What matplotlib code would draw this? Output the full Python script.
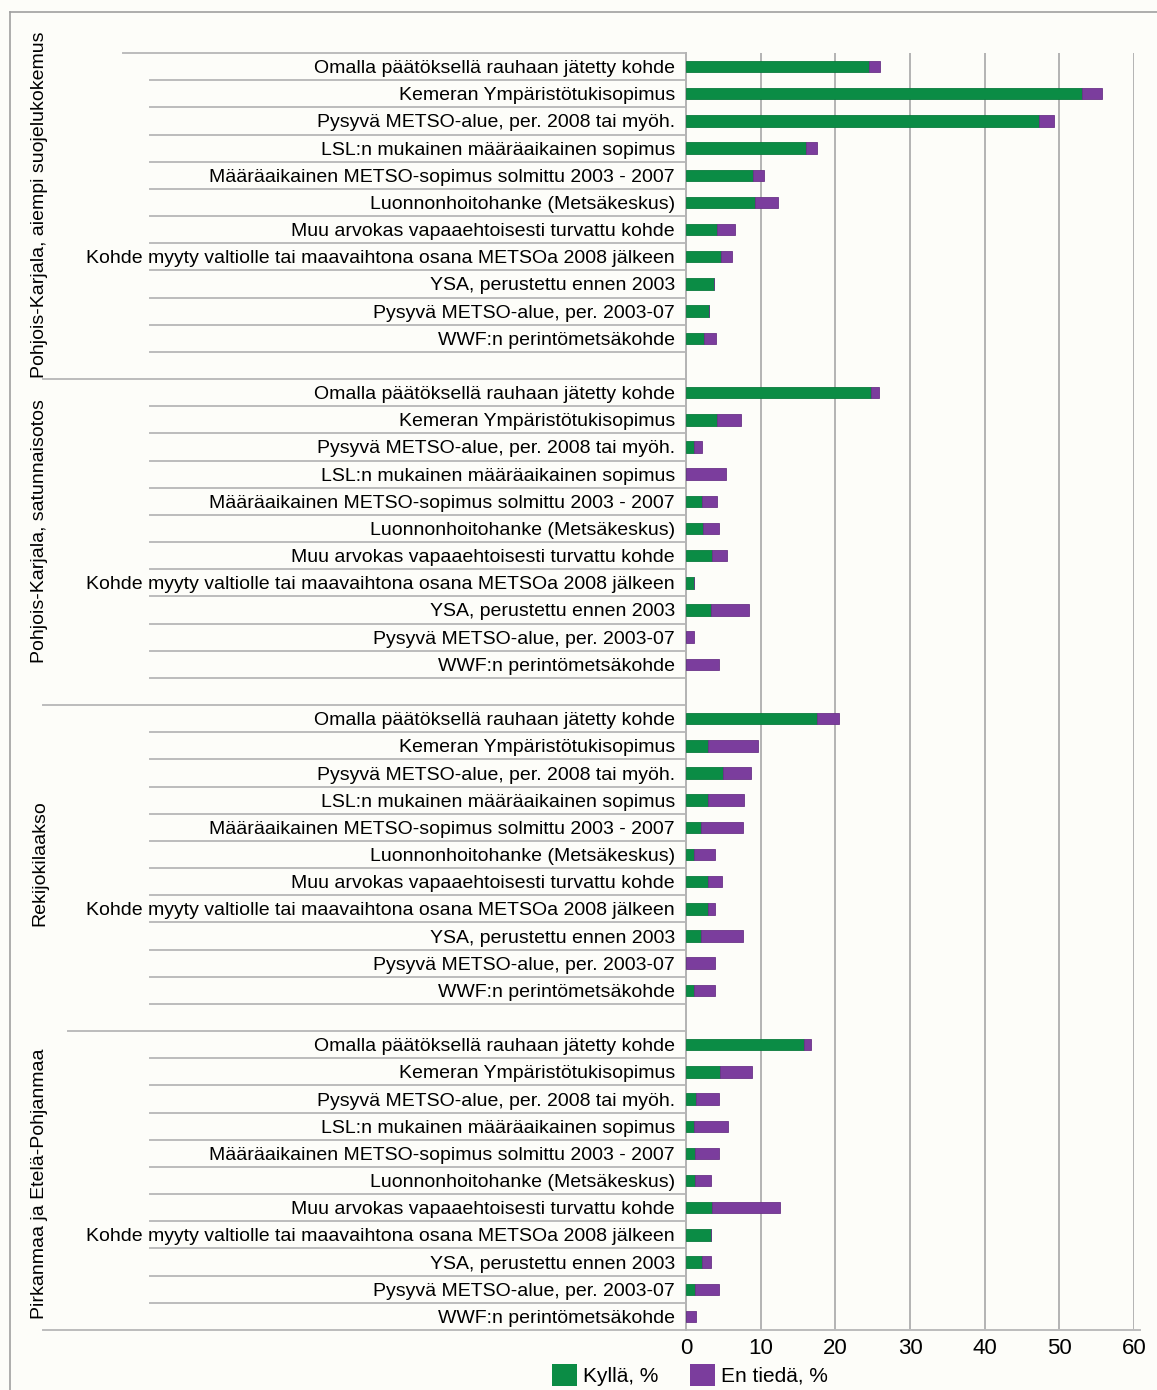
import numpy as np
import matplotlib.pyplot as plt
from matplotlib.lines import Line2D
from matplotlib.patches import Patch
import matplotlib.transforms as mtransforms

plt.rcParams['font.family'] = ['Liberation Sans', 'DejaVu Sans']

categories = ['Omalla päätöksellä rauhaan jätetty kohde',
              'Kemeran Ympäristötukisopimus',
              'Pysyvä METSO-alue, per. 2008 tai myöh.',
              'LSL:n mukainen määräaikainen sopimus',
              'Määräaikainen METSO-sopimus solmittu 2003 - 2007',
              'Luonnonhoitohanke (Metsäkeskus)',
              'Muu arvokas vapaaehtoisesti turvattu kohde',
              'Kohde myyty valtiolle tai maavaihtona osana METSOa 2008 jälkeen',
              'YSA, perustettu ennen 2003',
              'Pysyvä METSO-alue, per. 2003-07',
              "WWF:n perintömetsäkohde"]

groups = ['Pohjois-Karjala, aiempi suojelukokemus',
          'Pohjois-Karjala, satunnaisotos',
          'Rekijokilaakso',
          'Pirkanmaa ja Etelä-Pohjanmaa']

# Kyllä, %
kylla = [
    [24.5, 53.0, 47.3, 16.1, 9.0, 9.3, 4.1, 4.7, 3.8, 3.1, 2.4],
    [24.8, 4.2, 1.1, 0.0, 2.1, 2.3, 3.5, 1.1, 3.4, 0.0, 0.0],
    [17.6, 3.0, 5.0, 3.0, 2.0, 1.1, 3.0, 2.9, 2.0, 0.0, 1.1],
    [15.8, 4.5, 1.3, 1.1, 1.2, 1.2, 3.5, 3.3, 2.2, 1.2, 0.0],
]
# En tiedä, %
en_tieda = [
    [1.5, 2.7, 2.0, 1.4, 1.4, 3.0, 2.4, 1.4, 0.0, 0.0, 1.6],
    [1.1, 3.2, 1.1, 5.3, 2.1, 2.1, 2.0, 0.0, 5.1, 1.1, 4.4],
    [2.9, 6.6, 3.7, 4.8, 5.7, 2.8, 1.8, 1.0, 5.7, 3.9, 2.8],
    [1.0, 4.3, 3.1, 4.5, 3.2, 2.1, 9.1, 0.0, 1.1, 3.2, 1.3],
]
xticks = [0, 10, 20, 30, 40, 50, 60]

green = '#0b8c45'
purple = '#7b3d9d'
bg = '#fdfdf9'
fs = 14

W, H = 1157, 1390
fig = plt.figure(figsize=(W / 100, H / 100), dpi=100, facecolor=bg)
ax = fig.add_axes([686 / W, 1 - 1330 / H, (1134 - 686) / W, (1330 - 53) / H])
ax.set_facecolor(bg)

ypos, labels, kv, ev = [], [], [], []
for g in range(len(groups)):
    for r, c in enumerate(categories):
        ypos.append(g * 12 + r)
        labels.append(c)
        kv.append(kylla[g][r])
        ev.append(en_tieda[g][r])
ypos = np.array(ypos)
kv = np.array(kv)
ev = np.array(ev)

ax.barh(ypos, kv, height=0.42, color=green, edgecolor='#0a7a3c', linewidth=0.6, zorder=3)
ax.barh(ypos, ev, left=kv, height=0.42, color=purple, edgecolor='#6a3388', linewidth=0.6, zorder=3)

ax.set_xlim(0, 60)
ax.set_ylim(46.5, -0.5)
ax.set_xticks(xticks)
ax.set_xticklabels([str(t) for t in xticks], fontsize=16)
ax.set_yticks(ypos)
ax.set_yticklabels(labels, fontsize=fs)
ax.tick_params(axis='y', length=0, pad=8)
ax.tick_params(axis='x', length=0, pad=6)
ax.xaxis.grid(True, color='#b4b4b4', linewidth=1.4, zorder=0)
for s in ['top', 'right', 'bottom']:
    ax.spines[s].set_visible(False)
ax.spines['left'].set_color('#b4b4b4')
ax.spines['left'].set_linewidth(1.4)

# category separator lines
tr = mtransforms.blended_transform_factory(fig.transFigure, ax.transData)
line_kw = dict(color='#bcbcbc', linewidth=1.4, transform=tr, clip_on=False)
for g in range(len(groups)):
    for k in range(11):
        y = g * 12 + k + 0.5
        if y < 46:
            ax.add_line(Line2D([150 / W, 686 / W], [y, y], **line_kw))
ax.add_line(Line2D([123 / W, 686 / W], [-0.5, -0.5], **line_kw))
for y, x0 in [(11.5, 43), (23.5, 43), (35.5, 68)]:
    ax.add_line(Line2D([x0 / W, 686 / W], [y, y], **line_kw))
ax.add_line(Line2D([43 / W, 1140 / W], [46.5, 46.5], **line_kw))

# group labels
for g, name in enumerate(groups):
    yc = g * 12 + (5.3 if g == 2 else 5.1)
    ax.text(40 / W, yc, name, transform=tr, rotation=90, ha='center', va='center', fontsize=fs)

# outer frame
fig.add_artist(Line2D([10 / W, 10 / W], [0, 1 - 12 / H], color='#a0a0a0', linewidth=1.2))
fig.add_artist(Line2D([10 / W, 1], [1 - 12 / H, 1 - 12 / H], color='#a0a0a0', linewidth=1.2))

handles = [Patch(facecolor=green, label='Kyllä, %'), Patch(facecolor=purple, label='En tiedä, %')]
fig.legend(handles=handles, loc='center', bbox_to_anchor=(690 / W, 1 - 1375 / H), ncol=2,
           frameon=False, fontsize=15, handlelength=1.2, handleheight=1.2,
           handletextpad=0.3, columnspacing=1.5, borderpad=0)

fig.savefig('out.png', dpi=100, facecolor=bg)
